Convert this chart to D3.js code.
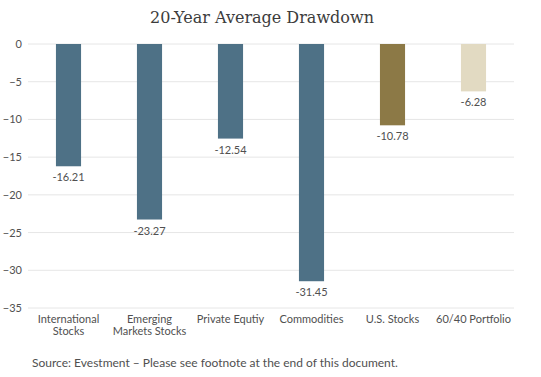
<!DOCTYPE html>
<html>
<head>
<meta charset="utf-8">
<script src="https://cdn.jsdelivr.net/npm/d3@7"></script>
<style>
  body { margin: 0; background: #fff; }
  text { font-family: Lato, 'Open Sans', sans-serif; fill: #505050; }
</style>
</head>
<body>
<div id="chart"></div>
<script>
const categories = [['International', 'Stocks'], ['Emerging', 'Markets Stocks'], ['Private Equtiy'], ['Commodities'], ['U.S. Stocks'], ['60/40 Portfolio']]
const drawdown = [-16.21, -23.27, -12.54, -31.45, -10.78, -6.28]
const barColors = ['#4e7186', '#4e7186', '#4e7186', '#4e7186', '#8c7946', '#e2dac2']
const yTicks = [0, -5, -10, -15, -20, -25, -30, -35]

const width = 541
const height = 377
const svg = d3.select('#chart')
  .append('svg')
  .attr('width', width)
  .attr('height', height)

svg.append('text')
  .attr('x', 262)
  .attr('y', 23)
  .attr('text-anchor', 'middle')
  .style('font-family', "'DejaVu Serif', serif")
  .style('font-size', '16px')
  .style('fill', '#3c3c3c')
  .text('20-Year Average Drawdown')

const x = d3.scaleBand()
  .domain(d3.range(categories.length))
  .range([28, 514])
  .paddingInner(0.69)
  .paddingOuter(0.345)

const y = d3.scaleLinear()
  .domain([0, -35])
  .range([44, 308])

// gridlines
svg.append('g')
  .selectAll('line')
  .data(yTicks)
  .join('line')
  .attr('x1', 28)
  .attr('x2', 514)
  .attr('y1', d => y(d))
  .attr('y2', d => y(d))
  .attr('stroke', '#e6e6e6')
  .attr('stroke-width', 1)

const yAxis = svg.append('g')
  .attr('transform', 'translate(22, 0)')
  .call(d3.axisLeft(y).tickValues(yTicks).tickSize(0).tickPadding(0))
yAxis.select('.domain').remove()
yAxis.selectAll('text')
  .style('font-size', '11px')
  .style('fill', '#505050')

svg.append('g')
  .selectAll('rect')
  .data(drawdown)
  .join('rect')
  .attr('x', (d, i) => x(i))
  .attr('y', y(0))
  .attr('width', x.bandwidth())
  .attr('height', d => y(d) - y(0))
  .attr('fill', (d, i) => barColors[i])

svg.append('g')
  .selectAll('text')
  .data(drawdown)
  .join('text')
  .attr('x', (d, i) => x(i) + x.bandwidth() / 2)
  .attr('y', d => y(d) + 15)
  .attr('text-anchor', 'middle')
  .style('font-size', '11px')
  .text(d => d.toFixed(2))

const labels = svg.append('g')
  .selectAll('text')
  .data(categories)
  .join('text')
  .attr('x', (d, i) => x(i) + x.bandwidth() / 2)
  .attr('y', 323)
  .attr('text-anchor', 'middle')
  .style('font-size', '11px')
labels.selectAll('tspan')
  .data(d => d)
  .join('tspan')
  .attr('x', function () { return this.parentNode.getAttribute('x') })
  .attr('dy', (d, i) => i === 0 ? 0 : 12)
  .text(d => d)

svg.append('text')
  .attr('x', 32)
  .attr('y', 367)
  .style('font-size', '12px')
  .text('Source: Evestment \u2013 Please see footnote at the end of this document.')
</script>
</body>
</html>
